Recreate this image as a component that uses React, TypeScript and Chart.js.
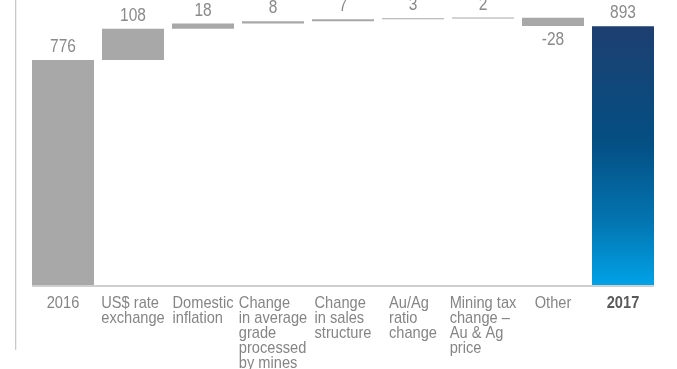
import React, { useEffect, useRef } from "react";
import { Chart, registerables } from "chart.js";

Chart.register(...registerables);

const categories: string[][] = [
  ["2016"],
  ["US$ rate", "exchange"],
  ["Domestic", "inflation"],
  ["Change", "in average", "grade", "processed", "by mines"],
  ["Change", "in sales", "structure"],
  ["Au/Ag", "ratio", "change"],
  ["Mining tax", "change –", "Au & Ag", "price"],
  ["Other"],
  ["2017"],
];
const changes: number[] = [776, 108, 18, 8, 7, 3, 2, -28, 893];
const totals: boolean[] = [true, false, false, false, false, false, false, false, true];
const valueLabels: string[] = ["776", "108", "18", "8", "7", "3", "2", "-28", "893"];

const FONT = '"Liberation Sans", Arial, sans-serif';
const SX = 0.86;

function buildRanges(): [number, number][] {
  const out: [number, number][] = [];
  let run = 0;
  changes.forEach((v, i) => {
    if (totals[i]) {
      out.push([0, v]);
      run = v;
    } else {
      out.push([run, run + v]);
      run += v;
    }
  });
  return out;
}

function narrowText(ctx: CanvasRenderingContext2D, t: string, x: number, y: number) {
  ctx.save();
  ctx.translate(x, y);
  ctx.scale(SX, 1);
  ctx.fillText(t, 0, 0);
  ctx.restore();
}

export default function App() {
  const ref = useRef<HTMLCanvasElement | null>(null);
  useEffect(() => {
    if (!ref.current) return;
    const ranges = buildRanges();
    const labelPlugin = {
      id: "waterfallLabels",
      afterDatasetsDraw(chart: any) {
        const ctx = chart.ctx as CanvasRenderingContext2D;
        const x = chart.scales.x;
        const y = chart.scales.y;
        const meta = chart.getDatasetMeta(0);
        ctx.save();
        // left rule
        ctx.fillStyle = "#c9c9c9";
        ctx.fillRect(15, 0, 1.3, 350);
        // baseline
        const first = meta.data[0];
        const last = meta.data[meta.data.length - 1];
        const b0 = y.getPixelForValue(0);
        const lx = first.x - first.width / 2;
        ctx.fillStyle = "#cfcfcf";
        ctx.fillRect(lx, b0, last.x + last.width / 2 - lx, 2);
        // value labels
        ctx.font = "18px " + FONT;
        ctx.fillStyle = "#8a8a8a";
        ctx.textAlign = "left";
        ranges.forEach((r, i) => {
          const cx = x.getPixelForValue(i);
          const top = y.getPixelForValue(Math.max(r[0], r[1]));
          const bot = y.getPixelForValue(Math.min(r[0], r[1]));
          const w = ctx.measureText(valueLabels[i]).width * SX;
          if (changes[i] >= 0) {
            ctx.textBaseline = "alphabetic";
            narrowText(ctx, valueLabels[i], cx - w / 2, top - 8);
          } else {
            ctx.textBaseline = "top";
            narrowText(ctx, valueLabels[i], cx - w / 2, bot + 5);
          }
        });
        // category labels
        ctx.textBaseline = "alphabetic";
        categories.forEach((lines, i) => {
          const cx = x.getPixelForValue(i);
          const bold = i === categories.length - 1;
          ctx.font = (bold ? "bold 17px " : "17px ") + FONT;
          ctx.fillStyle = bold ? "#5a5a5a" : "#858585";
          let w = 0;
          lines.forEach((l) => (w = Math.max(w, ctx.measureText(l).width * SX)));
          lines.forEach((l, j) => {
            narrowText(ctx, l, cx - w / 2, 308 + j * 15);
          });
        });
        ctx.restore();
      },
    };

    const chart = new Chart(ref.current, {
      type: "bar",
      data: {
        labels: categories.map((c) => c.join(" ")),
        datasets: [
          {
            data: ranges as any,
            backgroundColor: (c: any) => {
              const i = c.dataIndex;
              if (i === changes.length - 1) {
                const ch = c.chart;
                const area = ch.chartArea;
                if (!area) return "#1f4a7c";
                const yS = ch.scales.y;
                const t = yS.getPixelForValue(changes[i]);
                const b = yS.getPixelForValue(0);
                const g = ch.ctx.createLinearGradient(0, t, 0, b);
                g.addColorStop(0, "#1d3f70");
                g.addColorStop(0.45, "#044f83");
                g.addColorStop(0.75, "#0374b0");
                g.addColorStop(1, "#00a2e6");
                return g;
              }
              return "#a8a8a8";
            },
            borderWidth: 0,
            borderSkipped: false,
            barPercentage: 62 / 70,
            categoryPercentage: 1,
            minBarLength: 1,
          },
        ],
      },
      options: {
        responsive: false,
        animation: false,
        devicePixelRatio: 1,
        layout: { padding: { left: 28, right: 19, top: 1, bottom: 84 } },
        plugins: { legend: { display: false }, tooltip: { enabled: false }, title: { display: false } },
        scales: {
          x: { display: false },
          y: { display: false, min: 0, max: 980 },
        },
      },
      plugins: [labelPlugin],
    });
    return () => chart.destroy();
  }, []);
  return (
    <div style={{ position: "fixed", left: 0, top: 0, width: 677, height: 369, background: "#fff" }}>
      <canvas ref={ref} width={677} height={369} style={{ display: "block" }} />
    </div>
  );
}
